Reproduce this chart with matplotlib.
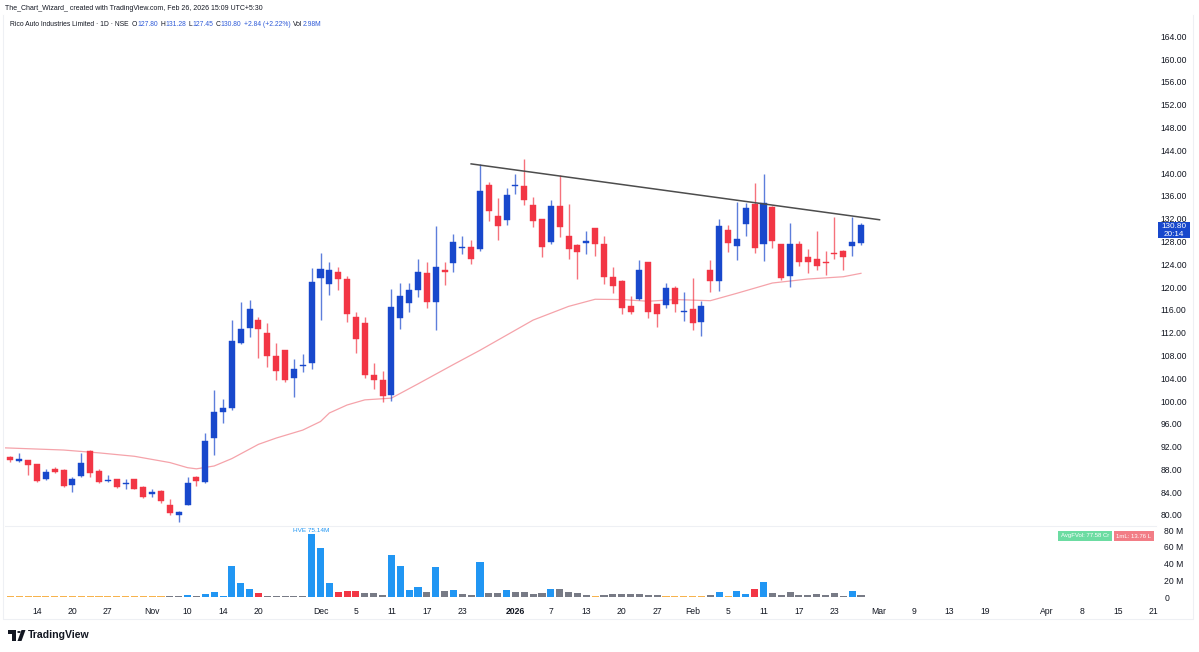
import numpy as np
import matplotlib.pyplot as plt
from matplotlib.patches import Rectangle, Polygon, Circle
from matplotlib.lines import Line2D

plt.rcParams['font.family'] = ['Liberation Sans', 'DejaVu Sans']

# bar index: 0 = 14 Oct 2025, trading days only
BAR_IDX = list(range(-3, 94))
OPEN = [90.1, 89.5, 89.65, 88.9, 86.4, 88.0, 87.9, 85.3, 86.8, 91.3,
        87.8, 86.0, 86.3, 85.4, 86.3, 84.9, 83.7, 84.2, 81.75, 80.0,
        81.75, 86.7, 85.8, 93.45, 98.1, 98.7, 110.2, 112.75, 114.2, 111.9,
        107.9, 108.9, 104.0, 106.2, 106.6, 121.5, 120.5, 122.7, 121.35, 114.8,
        113.7, 104.6, 103.6, 101.05, 114.5, 117.25, 119.5, 122.5, 117.3, 122.9,
        124.2, 126.8, 127.0, 126.6, 137.9, 132.5, 131.75, 137.7, 137.7, 134.4,
        131.9, 127.95, 134.2, 128.95, 127.4, 127.8, 130.3, 127.5, 121.7, 121.1,
        116.7, 117.9, 124.3, 117.0, 116.8, 119.9, 115.6, 116.1, 113.9, 123.0,
        121.1, 130.0, 127.25, 131.05, 134.6, 127.5, 134.0, 127.5, 121.9, 127.5,
        125.2, 124.9, 124.35, 126.0, 126.4, 127.2, 127.8]
HIGH = [90.35, 90.9, 89.7, 89.0, 88.0, 88.4, 88.0, 86.7, 90.8, 91.4,
        88.0, 87.0, 86.4, 86.3, 86.4, 85.1, 84.5, 84.3, 82.75, 80.75,
        86.7, 86.8, 94.3, 101.9, 100.3, 114.2, 117.4, 117.8, 114.8, 113.6,
        110.2, 109.0, 107.4, 108.2, 123.3, 125.9, 124.3, 123.5, 121.9, 115.7,
        114.8, 106.7, 105.3, 119.6, 120.75, 120.75, 124.9, 124.4, 130.7, 124.4,
        129.3, 128.9, 128.2, 141.6, 138.5, 135.7, 137.3, 139.8, 142.4, 135.8,
        132.0, 135.3, 139.65, 134.6, 127.5, 129.9, 130.4, 128.95, 123.5, 121.2,
        118.4, 124.7, 124.4, 117.1, 120.65, 120.1, 119.2, 121.5, 117.6, 124.7,
        131.9, 130.9, 135.0, 134.7, 138.3, 139.9, 134.2, 127.6, 131.2, 128.1,
        126.6, 129.9, 126.4, 132.3, 126.5, 132.3, 131.28]
LOW = [89.35, 89.35, 87.0, 85.8, 86.1, 87.4, 85.0, 84.0, 86.7, 86.7,
       85.6, 85.8, 84.8, 84.5, 84.5, 82.9, 83.2, 82.1, 80.0, 78.8,
       81.7, 85.1, 85.7, 90.5, 96.2, 98.4, 110.0, 111.2, 107.5, 105.9,
       103.7, 103.4, 100.75, 105.1, 105.7, 114.2, 118.6, 119.5, 113.9, 108.5,
       104.0, 102.05, 99.9, 100.05, 112.6, 115.7, 118.3, 116.3, 112.45, 120.35,
       122.7, 125.8, 124.0, 126.4, 131.6, 128.2, 130.9, 136.4, 134.4, 130.6,
       125.2, 127.5, 128.7, 125.0, 121.35, 125.8, 125.4, 120.5, 118.9, 115.3,
       115.3, 117.8, 114.5, 113.0, 116.3, 115.7, 114.1, 112.5, 111.4, 119.2,
       119.35, 126.2, 124.7, 128.95, 126.0, 124.6, 126.8, 121.2, 120.05, 123.6,
       122.4, 123.0, 122.1, 125.0, 123.0, 125.4, 127.45]
CLOSE = [89.6, 89.8, 88.8, 86.0, 87.6, 87.6, 85.1, 86.4, 89.2, 87.3,
         85.8, 86.1, 84.9, 85.7, 84.6, 83.2, 84.1, 82.5, 80.3, 80.5,
         85.7, 86.0, 92.9, 98.1, 98.7, 110.5, 112.6, 116.1, 112.6, 107.9,
         105.3, 103.7, 105.7, 106.4, 120.9, 123.1, 122.9, 121.35, 115.3, 110.8,
         104.6, 103.6, 100.9, 116.5, 118.4, 119.5, 122.7, 117.4, 123.45, 122.6,
         127.95, 127.1, 124.9, 136.9, 133.3, 130.75, 136.1, 137.9, 135.3, 131.5,
         127.1, 134.2, 130.6, 126.6, 126.2, 128.1, 127.5, 121.7, 120.2, 116.4,
         115.7, 122.9, 115.6, 115.3, 119.9, 116.95, 115.8, 113.6, 116.7, 121.05,
         130.7, 127.8, 128.4, 133.9, 126.8, 134.7, 128.1, 121.5, 127.5, 124.3,
         124.3, 123.7, 124.25, 125.8, 125.3, 127.95, 130.8]

# volume in millions, with the indicator colour class of each bar
VOLUME = [1.0, 0.9, 1.1, 1.0, 1.2, 0.9, 1.0, 1.3, 1.1, 0.9,
          1.0, 1.2, 0.9, 1.0, 0.8, 1.1, 0.9, 1.0, 0.8, 0.8,
          2.0, 1.0, 3.2, 6.0, 1.2, 37.5, 17.0, 9.9, 5.1, 1.6,
          1.6, 0.8, 1.6, 1.2, 75.14, 58.5, 17.0, 5.9, 7.1, 6.7,
          5.1, 5.1, 2.0, 50.6, 37.5, 7.9, 11.9, 5.9, 35.6, 6.7,
          8.7, 4.0, 2.8, 42.3, 5.1, 5.1, 7.9, 5.9, 6.3, 3.2,
          4.7, 9.1, 9.9, 5.9, 4.7, 2.8, 1.6, 2.4, 3.6, 3.6,
          3.2, 4.0, 2.0, 2.0, 1.2, 1.2, 1.2, 1.6, 1.6, 2.0,
          5.9, 1.2, 7.1, 3.2, 9.9, 17.4, 4.3, 2.8, 6.3, 2.0,
          2.0, 4.0, 2.0, 5.1, 1.6, 7.5, 2.98]
VOL_CLASS = ['low', 'low', 'low', 'low', 'low', 'low', 'low', 'low', 'low', 'low',
             'low', 'low', 'low', 'low', 'low', 'low', 'low', 'low', 'avg', 'avg',
             'up', 'avg', 'up', 'up', 'up', 'up', 'up', 'up', 'down', 'avg',
             'avg', 'avg', 'avg', 'avg', 'up', 'up', 'up', 'down', 'down', 'down',
             'avg', 'avg', 'avg', 'up', 'up', 'up', 'up', 'avg', 'up', 'avg',
             'up', 'avg', 'avg', 'up', 'avg', 'avg', 'up', 'avg', 'avg', 'avg',
             'avg', 'up', 'avg', 'avg', 'avg', 'avg', 'low', 'avg', 'avg', 'avg',
             'avg', 'avg', 'avg', 'avg', 'low', 'low', 'low', 'low', 'low', 'avg',
             'up', 'low', 'up', 'up', 'down', 'up', 'avg', 'avg', 'avg', 'avg',
             'avg', 'avg', 'avg', 'avg', 'avg', 'up', 'avg']

# moving average read at some bars
MA_IDX = [-4, 3, 7, 11, 15, 17, 18, 20, 22, 25, 27, 30, 32, 33, 35, 37, 40, 43, 47,
          50, 56, 60, 63, 66, 69, 72, 76, 79, 83, 87, 91, 93]
MA_VAL = [91.8, 91.4, 90.9, 90.3, 89.2, 88.3, 88.1, 88.6, 89.9, 92.4, 93.5, 94.9,
          96.4, 97.9, 99.3, 100.2, 100.5, 103.0, 106.4, 108.9, 114.2, 116.6, 117.85,
          117.8, 117.5, 117.8, 117.6, 118.9, 120.7, 121.4, 121.8, 122.4]

# resistance trendline
TREND_X = [49, 95.1]
TREND_Y = [141.6, 131.8]

TICK_IDX = [0, 4, 8, 13, 17, 21, 25, 32, 36, 40, 44, 48, 54, 58, 62, 66, 70,
            74, 78, 82, 86, 90, 95, 99, 103, 107, 114, 118, 122, 126]
TICK_LBL = ['14', '20', '27', 'Nov', '10', '14', '20', 'Dec', '5', '11', '17', '23',
            '2026', '7', '13', '20', '27', 'Feb', '5', '11', '17', '23', 'Mar', '9',
            '13', '19', 'Apr', '8', '15', '21']

UP = '#1848cc'
DOWN = '#f23645'
VOL_COLORS = {'low': '#f7b34d', 'avg': '#787b86', 'up': '#2196f3', 'down': '#f23645'}
TXT = '#131722'

W, H = 1199, 652


def fx(px):
    return px / W


def fy(py):
    return 1 - py / H


fig = plt.figure(figsize=(W / 100, H / 100), dpi=100)
fig.patch.set_facecolor('white')

ax = fig.add_axes([fx(5), fy(526), fx(1156) - fx(5), fy(30) - fy(526)])
axv = fig.add_axes([fx(5), fy(602), fx(1156) - fx(5), fy(526) - fy(602)], sharex=ax)

x = np.array(BAR_IDX)
o, h, l, c = map(np.array, (OPEN, HIGH, LOW, CLOSE))
colors = np.where(c >= o, UP, DOWN)

# candles
ax.vlines(x, l, h, colors=colors, linewidth=1.0, alpha=0.7, zorder=2)
body = np.maximum(np.abs(c - o), 0.18)
ax.bar(x, body, bottom=np.minimum(o, c), width=0.68, color=colors,
       edgecolor=colors, linewidth=0.3, zorder=3)

ax.plot(MA_IDX, MA_VAL, color='#f5a3aa', linewidth=0.9, zorder=1)
ax.plot(TREND_X, TREND_Y, color='#4d4d4d', linewidth=1.1, zorder=4)

ax.set_xlim(-3.61, 126.3)
ax.set_ylim(78.07, 165.09)
yt = np.arange(80, 165, 4)
ax.yaxis.tick_right()
ax.set_yticks(yt)
ax.set_yticklabels([f'{v:.2f}' for v in yt])
ax.tick_params(axis='y', length=0, pad=3, labelsize=6.2, labelcolor=TXT)
ax.tick_params(axis='x', bottom=False, labelbottom=False)
for s in ax.spines.values():
    s.set_visible(False)

# volume
axv.bar(x, VOLUME, width=0.8, color=[VOL_COLORS[k] for k in VOL_CLASS], zorder=2)
axv.set_ylim(-5.97, 84.8)
vt = [0, 20, 40, 60, 80]
axv.yaxis.tick_right()
axv.set_yticks(vt)
axv.set_yticklabels(['0' if v == 0 else f'{v} M' for v in vt])
axv.tick_params(axis='y', length=0, pad=6, labelsize=6.2, labelcolor=TXT)
axv.set_xticks(TICK_IDX)
axv.set_xticklabels(TICK_LBL)
axv.tick_params(axis='x', length=0, pad=3.5, labelsize=6.2, labelcolor=TXT)
for lbl in axv.get_xticklabels():
    if lbl.get_text() == '2026':
        lbl.set_fontweight('bold')
for s in axv.spines.values():
    s.set_visible(False)
axv.text(31, 76.2, 'HVE 75.14M', ha='center', va='bottom', fontsize=4.6,
         color='#2196f3', clip_on=False)

# pane separator and outer frame
fig.add_artist(Line2D([fx(5), fx(1156)], [fy(526), fy(526)], color='#eef0f4', lw=0.8))
fig.add_artist(Line2D([fx(3), fx(3), fx(1193), fx(1193)], [fy(15), fy(619), fy(619), fy(15)],
                      color='#eef0f4', lw=0.8))

# last price marker
fig.add_artist(Rectangle((fx(1158), fy(238)), fx(1190) - fx(1158), fy(222) - fy(238),
                         transform=fig.transFigure, facecolor=UP, edgecolor='none'))
fig.text(fx(1174), fy(226.3), '130.80', color='white', fontsize=5.9, ha='center', va='center')
fig.text(fx(1174), fy(234.2), '20:14', color='white', fontsize=5.9, ha='center', va='center')

# volume info boxes
fig.add_artist(Rectangle((fx(1058), fy(541)), fx(1112) - fx(1058), fy(531) - fy(541),
                         transform=fig.transFigure, facecolor='#6cdca2', edgecolor='none'))
fig.text(fx(1085), fy(536), 'AvgFVol: 77.58 Cr', color='white', fontsize=4.3,
         ha='center', va='center')
fig.add_artist(Rectangle((fx(1114), fy(541)), fx(1154) - fx(1114), fy(531) - fy(541),
                         transform=fig.transFigure, facecolor='#f27d86', edgecolor='none'))
fig.text(fx(1134), fy(536), '1mL: 13.76 L', color='white', fontsize=4.3,
         ha='center', va='center')

# header
fig.text(fx(5), fy(8.5), 'The_Chart_Wizard_ created with TradingView.com, Feb 26, 2026 15:09 UTC+5:30',
         color=TXT, fontsize=5.0, ha='left', va='center')

BLUE_TXT = '#2f5bd8'
pieces = [('Rico Auto Industries Limited · 1D · NSE', TXT, 3.5),
          ('O', TXT, 0), ('127.80', BLUE_TXT, 2.5),
          ('H', TXT, 0), ('131.28', BLUE_TXT, 2.5),
          ('L', TXT, 0), ('127.45', BLUE_TXT, 2.5),
          ('C', TXT, 0), ('130.80', BLUE_TXT, 2.5),
          ('+2.84 (+2.22%)', BLUE_TXT, 2.5),
          ('Vol', TXT, 0), ('2.98M', BLUE_TXT, 0)]
renderer = fig.canvas.get_renderer()
px = 10
for txt, col, gap in pieces:
    t = fig.text(fx(px), fy(24.5), txt, color=col, fontsize=4.9, ha='left', va='center')
    px += t.get_window_extent(renderer).width + gap

# TradingView logo
logo = '#131722'
fig.add_artist(Rectangle((fx(8), fy(633.5)), fx(16) - fx(8), fy(630) - fy(633.5),
                         transform=fig.transFigure, facecolor=logo, edgecolor='none'))
fig.add_artist(Rectangle((fx(12.5), fy(641)), fx(16) - fx(12.5), fy(630) - fy(641),
                         transform=fig.transFigure, facecolor=logo, edgecolor='none'))
fig.add_artist(Circle((fx(19), fy(632)), 1.8 / W, transform=fig.transFigure,
                      facecolor=logo, edgecolor='none'))
fig.add_artist(Polygon([(fx(17.5), fy(641)), (fx(21.5), fy(641)), (fx(25.5), fy(630)),
                        (fx(21.5), fy(630))], closed=True, transform=fig.transFigure,
                       facecolor=logo, edgecolor='none'))
fig.text(fx(28), fy(635.5), 'TradingView', color=logo, fontsize=7.6, fontweight='bold',
         ha='left', va='center')

fig.savefig('out.png', dpi=100, facecolor='white')
